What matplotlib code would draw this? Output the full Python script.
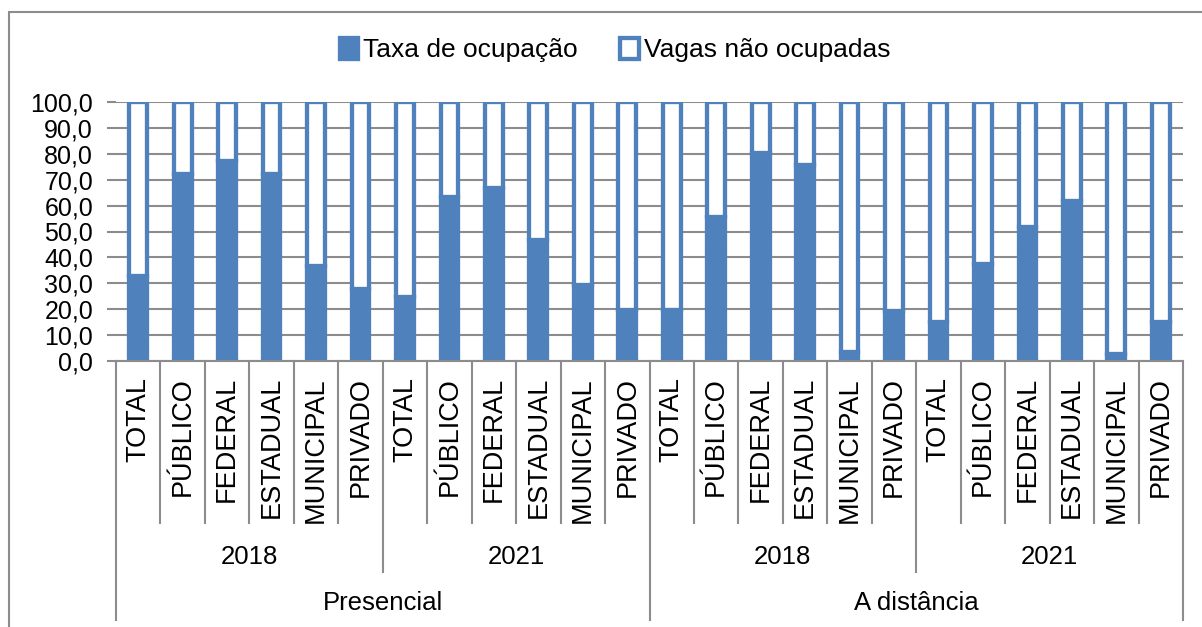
import matplotlib
matplotlib.use("Agg")
import matplotlib.pyplot as plt
from matplotlib.patches import Rectangle
from matplotlib.lines import Line2D
import numpy as np

plt.rcParams['font.family'] = ['Liberation Sans', 'DejaVu Sans']

# Dados
categorias = ['TOTAL', 'PÚBLICO', 'FEDERAL', 'ESTADUAL', 'MUNICIPAL', 'PRIVADO']
anos = ['2018', '2021']
modalidades = ['Presencial', 'A distância']

taxa_ocupacao = [
    32.8, 72.1, 77.4, 72.2, 36.6, 27.8,   # Presencial 2018
    24.9, 63.3, 66.8, 46.9, 29.4, 19.5,   # Presencial 2021
    19.5, 55.6, 80.5, 75.8, 3.3, 19.2,    # A distância 2018
    14.9, 37.4, 51.7, 61.8, 2.8, 14.9,    # A distância 2021
]
vagas_nao_ocupadas = [100 - v for v in taxa_ocupacao]

AZUL = '#4F81BD'
CINZA = '#8C8C8C'
W, H = 1202, 627

fig = plt.figure(figsize=(W / 100, H / 100), dpi=100)

# moldura externa
fig.patches.append(Rectangle((9 / W, -0.01), 1.2, (H - 12) / H + 0.01,
                             transform=fig.transFigure, fill=False,
                             edgecolor=CINZA, linewidth=1.5))

x0, x1, y0, y1 = 116, 1183, 361, 102
ax = fig.add_axes([x0 / W, (H - y0) / H, (x1 - x0) / W, (y0 - y1) / H])

n = len(taxa_ocupacao)
x = np.arange(n) + 0.5
ax.bar(x, taxa_ocupacao, width=0.40, color=AZUL, edgecolor=AZUL,
       linewidth=3.1, zorder=3, label='Taxa de ocupação')
ax.bar(x, vagas_nao_ocupadas, bottom=taxa_ocupacao, width=0.40, color='white',
       edgecolor=AZUL, linewidth=3.1, zorder=3, label='Vagas não ocupadas')

ax.set_xlim(0, n)
ax.set_ylim(0, 100)
ax.set_yticks(np.arange(0, 101, 10))
ax.set_yticklabels([f'{v:.1f}'.replace('.', ',') for v in np.arange(0, 101, 10)],
                   fontsize=18)
ax.yaxis.grid(True, color=CINZA, linewidth=1.5, zorder=0)
ax.tick_params(axis='y', length=6.5, width=1.5, color=CINZA, pad=10)
ax.set_xticks([])
for s in ['top', 'right', 'left']:
    ax.spines[s].set_visible(False)
ax.spines['bottom'].set_color(CINZA)
ax.spines['bottom'].set_linewidth(1.5)
ax.spines['bottom'].set_zorder(4)

# eixo de categorias em vários níveis
altura = y0 - y1
tr = ax.get_xaxis_transform()
fim_cat = -(523 - y0) / altura
fim_ano = -(572 - y0) / altura
fim_mod = -(620 - y0) / altura

for i in range(n + 1):
    if i % 12 == 0:
        yb = fim_mod
    elif i % 6 == 0:
        yb = fim_ano
    else:
        yb = fim_cat
    ax.add_line(Line2D([i, i], [0, yb], transform=tr, color=CINZA,
                       linewidth=1.5, clip_on=False))

for i in range(n):
    ax.text(i + 0.5, -(377 - y0) / altura, categorias[i % 6], transform=tr,
            rotation=90, ha='center', va='top', fontsize=19.5)

for j in range(4):
    ax.text(j * 6 + 3, -(557 - y0) / altura, anos[j % 2], transform=tr,
            ha='center', va='center', fontsize=18.5)

for k in range(2):
    ax.text(k * 12 + 6, -(603 - y0) / altura, modalidades[k], transform=tr,
            ha='center', va='center', fontsize=18.5)

leg = fig.legend(loc='center', bbox_to_anchor=(0.5 + 14 / W, 1 - 50 / H), ncol=2,
                 frameon=False, fontsize=19, handlelength=0.7, handleheight=0.85,
                 handletextpad=0.2, columnspacing=1.6)

fig.savefig('out.png', dpi=100)
